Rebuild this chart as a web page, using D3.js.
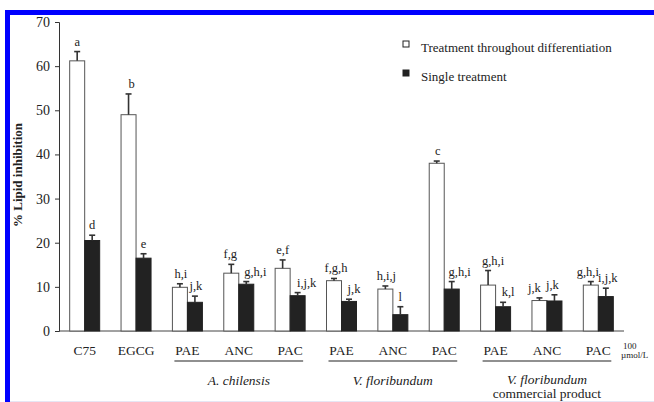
<!DOCTYPE html>
<html>
<head>
<meta charset="utf-8">
<script src="https://cdn.jsdelivr.net/npm/d3@7/dist/d3.min.js"></script>
<style>
  body { margin: 0; background: #fff; }
  svg text { font-family: "Liberation Serif", "Times New Roman", serif; fill: #222; }
</style>
</head>
<body>
<script>
// data
var categories = ["C75","EGCG","PAE1","ANC1","PAC1","PAE2","ANC2","PAC2","PAE3","ANC3","PAC3"];
var catLabels  = ["C75","EGCG","PAE","ANC","PAC","PAE","ANC","PAC","PAE","ANC","PAC"];
var throughout    = [61.2, 49.0, 9.9, 13.1, 14.2, 11.4, 9.5, 38.0, 10.4, 6.9, 10.4];
var throughoutErr = [2.1, 4.7, 0.8, 2.0, 1.9, 0.5, 0.7, 0.5, 3.3, 0.6, 0.8];
var single        = [20.5, 16.5, 6.5, 10.6, 8.0, 6.7, 3.7, 9.5, 5.5, 6.8, 7.8];
var singleErr     = [1.2, 1.0, 1.4, 0.6, 0.7, 0.5, 1.8, 1.7, 1.0, 1.4, 1.9];
var throughoutLetters = ["a","b","h,i","f,g","e,f","f,g,h","h,i,j","c","g,h,i","j,k","g,h,i"];
var singleLetters     = ["d","e","j,k","g,h,i","i,j,k","j,k","l","g,h,i","k,l","j,k","i,j,k"];
var groups = [
  {name:"A. chilensis", sub:null, from:"PAE1", to:"PAC1"},
  {name:"V. floribundum", sub:null, from:"PAE2", to:"PAC2"},
  {name:"V. floribundum", sub:"commercial product", from:"PAE3", to:"PAC3"}
];
var yTicks = [0,10,20,30,40,50,60,70];
var legendLabels = ["Treatment throughout differentiation","Single treatment"];

// small nudges so letters don't collide (layout only)
var throughoutShift = [0,3,1,-1,0,2,1,1,5,-5,-3];
var singleShift     = [0,0,1,9,9,5,0,8,5,-2,2];

var W = 654, H = 402;
var svg = d3.select("body").append("svg").attr("width", W).attr("height", H);

// blue frame
svg.append("rect").attr("x",5).attr("y",10).attr("width",W-5).attr("height",5).attr("fill","#0000ff");
svg.append("rect").attr("x",5).attr("y",10).attr("width",5).attr("height",H-10).attr("fill","#0000ff");
svg.append("line").attr("x1",10).attr("x2",W).attr("y1",401.5).attr("y2",401.5).attr("stroke","#e6e6f4");

var x = d3.scalePoint().domain(categories).range([59,624]).padding(0.5);
var y = d3.scaleLinear().domain([0,70]).range([331,22]);
var bw = 15;

// y axis
var yAxis = d3.axisLeft(y).tickValues(yTicks).tickSize(4).tickPadding(5);
var gy = svg.append("g").attr("transform","translate(59,0)").call(yAxis);
gy.select(".domain").attr("stroke","#333");
gy.selectAll(".tick line").attr("stroke","#333");
gy.selectAll(".tick text").style("font-size","14px").attr("fill","#222");

// x axis line
svg.append("line").attr("x1",59).attr("x2",624).attr("y1",331).attr("y2",331).attr("stroke","#444");

svg.append("text")
  .attr("transform","translate(22,175) rotate(-90)")
  .attr("text-anchor","middle")
  .style("font-size","13px").style("font-weight","bold")
  .text("% Lipid inhibition");

function drawSeries(vals, errs, letters, shifts, off, fill, stroke){
  var g = svg.append("g");
  g.selectAll("rect").data(vals).enter().append("rect")
    .attr("x", function(d,i){ return x(categories[i]) + off; })
    .attr("y", function(d){ return y(d); })
    .attr("width", bw)
    .attr("height", function(d){ return y(0) - y(d); })
    .attr("fill", fill).attr("stroke", stroke).attr("stroke-width",1);
  var cx = function(i){ return x(categories[i]) + off + bw/2; };
  g.selectAll("line.err").data(vals).enter().append("line").attr("class","err")
    .attr("x1", function(d,i){ return cx(i); }).attr("x2", function(d,i){ return cx(i); })
    .attr("y1", function(d){ return y(d); })
    .attr("y2", function(d,i){ return y(d + errs[i]); })
    .attr("stroke","#333").attr("stroke-width",1.6);
  g.selectAll("line.cap").data(vals).enter().append("line").attr("class","cap")
    .attr("x1", function(d,i){ return cx(i) - 3; }).attr("x2", function(d,i){ return cx(i) + 3; })
    .attr("y1", function(d,i){ return y(d + errs[i]); })
    .attr("y2", function(d,i){ return y(d + errs[i]); })
    .attr("stroke","#333").attr("stroke-width",1.6);
  g.selectAll("text").data(vals).enter().append("text")
    .attr("x", function(d,i){ return cx(i) + shifts[i]; })
    .attr("y", function(d,i){ return y(d + errs[i]) - 6; })
    .attr("text-anchor","middle")
    .style("font-size","12.5px")
    .text(function(d,i){ return letters[i]; });
}
drawSeries(throughout, throughoutErr, throughoutLetters, throughoutShift, -bw, "#fff", "#555");
drawSeries(single, singleErr, singleLetters, singleShift, 0, "#222", "#222");

// category labels
svg.append("g").selectAll("text").data(categories).enter().append("text")
  .attr("x", function(d){ return x(d); })
  .attr("y", 355)
  .attr("text-anchor","middle")
  .style("font-size","13.5px")
  .text(function(d,i){ return catLabels[i]; });

// unit
svg.append("text").attr("x",623).attr("y",349).style("font-size","9px").text("100");
svg.append("text").attr("x",621).attr("y",358).style("font-size","9px").text("\u00b5mol/L");

// group brackets
groups.forEach(function(gr){
  var x1 = x(gr.from) - 13, x2 = x(gr.to) + 13;
  svg.append("line").attr("x1",x1).attr("x2",x2).attr("y1",361).attr("y2",361)
    .attr("stroke","#222").attr("stroke-width",1.2);
  svg.append("text").attr("x",(x1+x2)/2).attr("y",gr.sub ? 384 : 385)
    .attr("text-anchor","middle")
    .style("font-size","13.5px").style("font-style","italic")
    .text(gr.name);
  if(gr.sub){
    svg.append("text").attr("x",(x1+x2)/2).attr("y",398)
      .attr("text-anchor","middle").style("font-size","13.5px").text(gr.sub);
  }
});

// legend
var leg = svg.append("g").selectAll("g").data(legendLabels).enter().append("g")
  .attr("transform", function(d,i){ return "translate(403," + (41 + i*29) + ")"; });
leg.append("rect").attr("width",6).attr("height",6)
  .attr("fill", function(d,i){ return i ? "#222" : "#fff"; })
  .attr("stroke","#222").attr("stroke-width",1);
leg.append("text").attr("x",18).attr("y",11).style("font-size","13px")
  .text(function(d){ return d; });
</script>
</body>
</html>
